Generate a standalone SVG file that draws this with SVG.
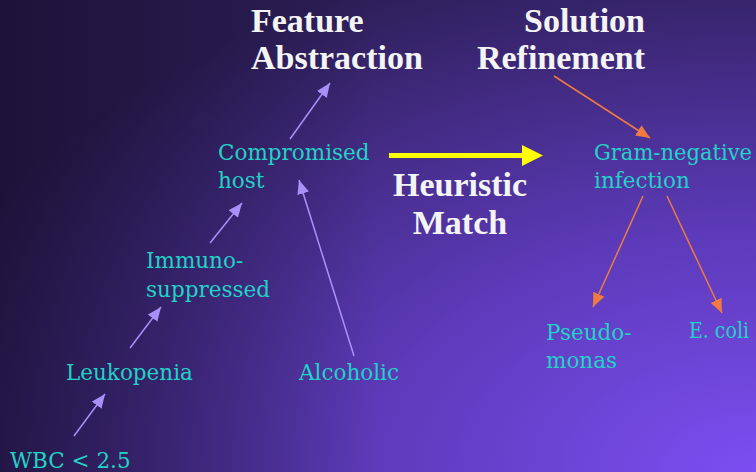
<svg xmlns="http://www.w3.org/2000/svg" width="756" height="472" viewBox="0 0 756 472">
<defs>
<radialGradient id="bg" gradientUnits="userSpaceOnUse" cx="756" cy="472" r="1" gradientTransform="translate(756 472) scale(880 540) translate(-756 -472)">
<stop offset="0" stop-color="#7c4ef2"/>
<stop offset="0.45" stop-color="#5c3ab8"/>
<stop offset="1" stop-color="#2c1e56"/>
</radialGradient>
<linearGradient id="shade" x1="0" y1="0" x2="1" y2="0">
<stop offset="0" stop-color="#0a0515" stop-opacity="0.45"/>
<stop offset="0.5" stop-color="#0a0515" stop-opacity="0"/>
</linearGradient>
<marker id="ap" markerUnits="userSpaceOnUse" markerWidth="16" markerHeight="12" refX="14" refY="6" orient="auto">
<path d="M0,0 L14,6 L0,12 Z" fill="#a890f8"/>
</marker>
<marker id="ao" markerUnits="userSpaceOnUse" markerWidth="16" markerHeight="12" refX="14" refY="6" orient="auto">
<path d="M0,0 L14,6 L0,12 Z" fill="#f07a40"/>
</marker>
<style>
.t{font-family:"Liberation Serif","Times New Roman",serif;font-weight:bold;font-size:34px;fill:#f4f4f4}
.n{font-family:"DejaVu Serif",serif;font-size:21.5px;fill:#22d2c6}
.p{stroke:#a890f8;stroke-width:1.5;fill:none;marker-end:url(#ap)}
.o{stroke:#f07a40;stroke-width:1.5;fill:none;marker-end:url(#ao)}
</style>
</defs>
<rect width="756" height="472" fill="url(#bg)"/>
<rect width="756" height="472" fill="url(#shade)"/>
<g id="connectors">
<line class="p" x1="290" y1="139" x2="330" y2="83"/>
<line class="p" x1="354" y1="356" x2="299" y2="180"/>
<line class="p" x1="210" y1="243" x2="242" y2="203"/>
<line class="p" x1="130" y1="348" x2="161" y2="307"/>
<line class="p" x1="74" y1="436" x2="105" y2="394"/>
<line class="o" x1="554" y1="76" x2="650" y2="138"/>
<line class="o" x1="643" y1="196" x2="593" y2="307"/>
<line class="o" x1="667" y1="196" x2="722" y2="313"/>
<g id="heuristic-arrow">
<rect x="389" y="153" width="136" height="5" fill="#ffff00"/>
<path d="M522,145 L543,155.5 L522,166 Z" fill="#ffff00"/>
</g>
</g>
<g id="feature-abstraction"><text class="t" x="251" y="32">Feature</text><text class="t" x="251" y="69">Abstraction</text></g>
<g id="solution-refinement"><text class="t" x="645" y="32" text-anchor="end">Solution</text><text class="t" x="645" y="69" text-anchor="end">Refinement</text></g>
<g id="heuristic-match"><text class="t" x="460" y="196" text-anchor="middle">Heuristic</text><text class="t" x="460" y="234" text-anchor="middle">Match</text></g>
<g id="compromised-host"><text class="n" x="218" y="160">Compromised</text><text class="n" x="218" y="188">host</text></g>
<g id="immunosuppressed"><text class="n" x="146" y="268">Immuno-</text><text class="n" x="146" y="297">suppressed</text></g>
<g id="leukopenia"><text class="n" x="66" y="380">Leukopenia</text></g>
<g id="alcoholic"><text class="n" x="299" y="380">Alcoholic</text></g>
<g id="wbc"><text class="n" x="10" y="468">WBC &lt; 2.5</text></g>
<g id="gram-negative"><text class="n" x="594" y="160" textLength="158" lengthAdjust="spacingAndGlyphs">Gram-negative</text><text class="n" x="594" y="188">infection</text></g>
<g id="pseudomonas"><text class="n" x="546" y="340">Pseudo-</text><text class="n" x="546" y="368">monas</text></g>
<g id="ecoli"><text class="n" x="689" y="338" textLength="60" lengthAdjust="spacingAndGlyphs">E. coli</text></g>
</svg>
